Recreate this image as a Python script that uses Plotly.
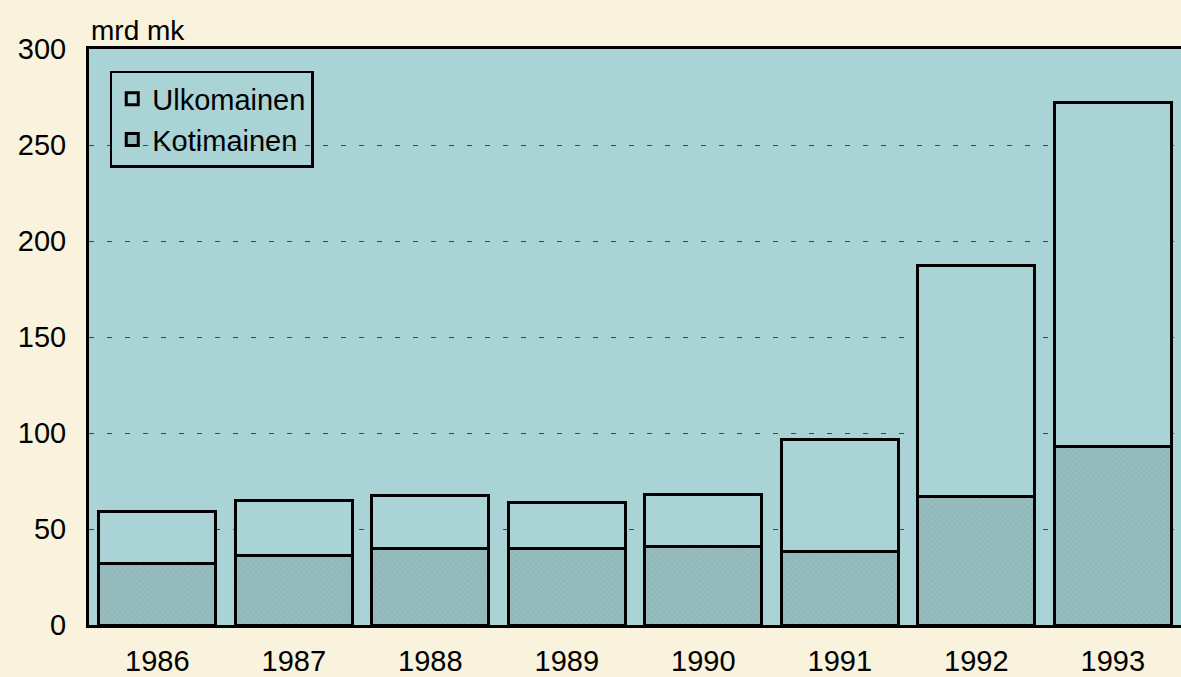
import plotly.graph_objects as go

years = ["1986", "1987", "1988", "1989", "1990", "1991", "1992", "1993"]
kotimainen = [32, 36, 40, 40, 41, 38.5, 67, 93]
total = [59, 65, 67.5, 64, 68, 96.5, 187, 272]
ulkomainen = [t - k for t, k in zip(total, kotimainen)]
y_ticks = [0, 50, 100, 150, 200, 250, 300]

paper_bg = "#f9f2dc"
plot_bg = "#aad3d6"
kot_color = "#97bcbd"
font_family = "Liberation Sans, Arial, Helvetica, sans-serif"

fig = go.Figure()
fig.add_trace(go.Bar(
    x=years, y=kotimainen, name="Kotimainen",
    marker=dict(color=kot_color, line=dict(color="black", width=3),
                pattern=dict(shape="x", size=4, solidity=0.25,
                             fgcolor="#7fa3a4", bgcolor=kot_color)),
    width=0.86,
))
fig.add_trace(go.Bar(
    x=years, y=ulkomainen, name="Ulkomainen",
    marker=dict(color=plot_bg, line=dict(color="black", width=3)),
    width=0.86,
))

fig.update_layout(
    barmode="stack",
    width=1181, height=677,
    margin=dict(l=89, r=0, t=49, b=49),
    paper_bgcolor=paper_bg,
    plot_bgcolor=plot_bg,
    font=dict(family=font_family, size=29, color="black"),
    legend=dict(
        x=0.019, y=0.962, xanchor="left", yanchor="top",
        traceorder="reversed",
        bgcolor="rgba(0,0,0,0)",
        bordercolor="black", borderwidth=2.5,
        font=dict(size=29),
        itemwidth=30,
        tracegroupgap=0,
    ),
    showlegend=True,
    annotations=[dict(
        text="mrd mk", xref="paper", yref="paper",
        x=0, y=1, xanchor="left", yanchor="bottom", yshift=1,
        showarrow=False, font=dict(size=28),
    )],
)
fig.update_xaxes(
    showgrid=False, showline=True, linecolor="black", linewidth=3,
    ticks="", ticklabelstandoff=8, range=[-0.5, 7.5], mirror=True,
)
fig.update_yaxes(
    range=[0, 300], tickvals=y_ticks,
    showgrid=True, gridcolor="#3a4a4c", griddash="5px,13px", gridwidth=1,
    showline=True, linecolor="black", linewidth=3, mirror=False,
    zeroline=False, ticks="", ticklabelstandoff=14,
)

fig.write_html(
    "out.html",
    config={"displayModeBar": False},
    post_script="document.body.style.margin='0';document.body.style.background='%s';" % paper_bg,
)
